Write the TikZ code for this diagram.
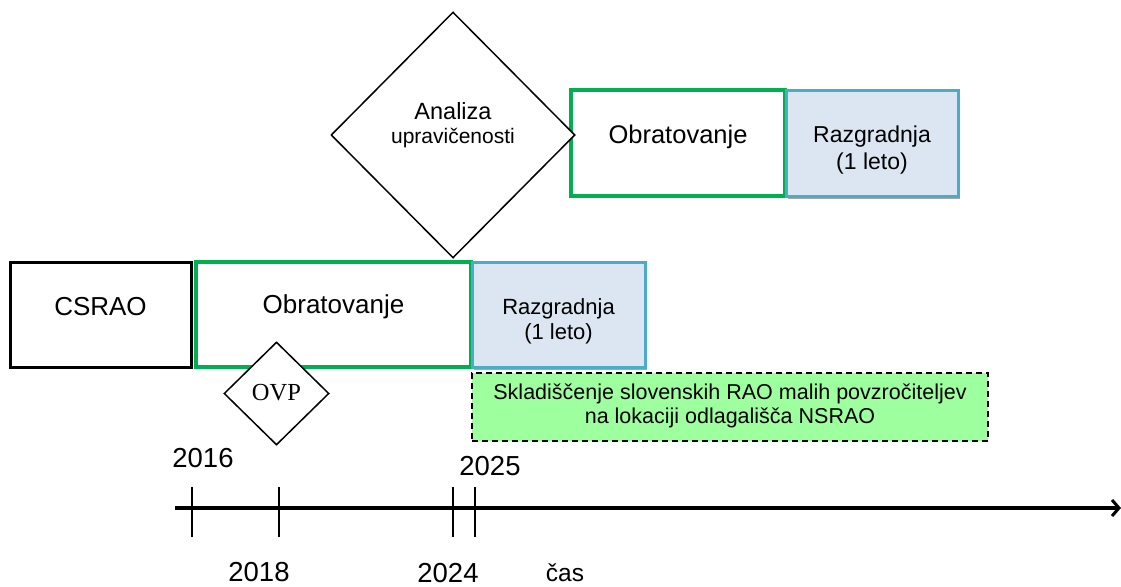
\documentclass[tikz,border=0pt]{standalone}
\usepackage{fontspec}
\setmainfont{Liberation Sans}
\newfontfamily\serifovp{Liberation Serif}
\usetikzlibrary{shapes.geometric,arrows.meta,shadows}

\definecolor{phasegreen}{HTML}{00B050}
\definecolor{decomfill}{HTML}{DCE6F2}
\definecolor{decomline}{HTML}{4BACC6}
\definecolor{storefill}{HTML}{9EFF9E}
\definecolor{shadowgrey}{HTML}{A6A6A6}

\newcommand{\fsz}[1]{\fontsize{#1pt}{\dimexpr #1pt*115/100\relax}\selectfont}

\tikzset{
  phase/.style={rectangle, inner sep=0pt, align=center},
  blackbox/.style={phase, draw=black, line width=3pt, fill=white},
  runbox/.style={phase, draw=phasegreen, line width=4pt, fill=white},
  decombox/.style={phase, draw=decomline, line width=3pt, fill=decomfill,
    drop shadow={shadow xshift=2pt, shadow yshift=-3pt, fill=shadowgrey, opacity=1}},
  storebox/.style={phase, draw=black, dash pattern=on 6pt off 4pt, line width=1.6pt, fill=storefill},
  decision/.style={diamond, shape aspect=1, draw=black, line width=1.5pt, fill=white, inner sep=0pt},
  tick/.style={line width=2pt},
  axis/.style={line width=3.5pt, -{Straight Barb[length=7pt,width=16pt,line width=3pt]}},
  txt/.style={inner sep=0pt, align=center}
}

\begin{document}
\begin{tikzpicture}[x=1pt, y=-1pt]
  \useasboundingbox (0,0) rectangle (1121,586);

  % second operating period (upper row)
  \node[runbox, minimum width=214pt, minimum height=106pt] (run2) at (678,143) {};
  \node[txt, font=\fsz{25.5}] (run2t) at (678,137) {Obratovanje};
  \node[decombox, minimum width=172pt, minimum height=106pt] (dec2) at (872,143) {};
  \node[txt, font=\fsz{23}] (dec2t) at (872,150) {Razgradnja\\(1 leto)};

  % first operating period (lower row)
  \node[blackbox, minimum width=181pt, minimum height=105pt] (csrao) at (100.5,314.5) {};
  \node[txt, font=\fsz{26}] (csraot) at (100.5,307) {CSRAO};
  \node[runbox, minimum width=275pt, minimum height=105pt] (run1) at (333.5,314.5) {};
  \node[txt, font=\fsz{26}] (run1t) at (333.5,307) {Obratovanje};
  \node[decombox, minimum width=173pt, minimum height=105pt] (dec1) at (558.5,314.5) {};
  \node[txt, font=\fsz{22}] (dec1t) at (558.5,321) {Razgradnja\\(1 leto)};

  % storage at the repository site
  \node[storebox, minimum width=516pt, minimum height=68pt] (store) at (730,407) {};
  \node[txt, font=\fsz{21.5}] (storet) at (730,406)
    {Skladiščenje slovenskih RAO malih povzročiteljev\\na lokaciji odlagališča NSRAO};

  % decision points
  \node[decision, minimum width=244pt, minimum height=246pt] (analiza) at (453,135) {};
  \node[txt, font=\fsz{23.5}] (analizat) at (453,125)
    {Analiza\\[-3pt]{\fsz{21}upravičenosti}};
  \node[decision, minimum width=105pt, minimum height=103pt] (ovp) at (276.5,393.5) {};
  \node[txt, font=\serifovp\fsz{24.5}] (ovpt) at (276.5,393) {OVP};

  % time axis
  \coordinate (axs) at (175,508);
  \coordinate (axe) at (1121,508);
  \draw[axis] (axs) -- (axe);
  \foreach \n/\x in {a/191.5, b/279, c/452.5, d/474.5}{
    \coordinate (t\n top) at (\x,487);
    \coordinate (t\n bot) at (\x,537);
    \draw[tick] (t\n top) -- (t\n bot);
  }

  % years and axis label
  \node[txt, font=\fsz{27.5}] (y2016) at (203,458) {2016};
  \node[txt, font=\fsz{27.5}] (y2025) at (490,466) {2025};
  \node[txt, font=\fsz{27.5}] (y2018) at (259,572) {2018};
  \node[txt, font=\fsz{27.5}] (y2024) at (448,573) {2024};
  \node[txt, font=\fsz{24.5}] (cas) at (565,573) {čas};
\end{tikzpicture}
\end{document}
